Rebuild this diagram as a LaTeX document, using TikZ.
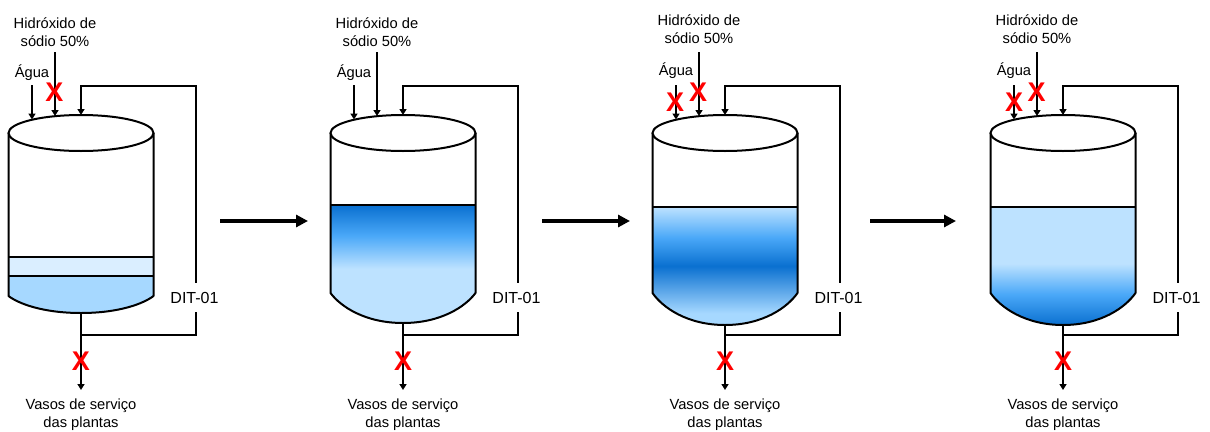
\documentclass[tikz,border=0pt]{standalone}
\usepackage{fontspec}
\setmainfont{Liberation Sans}
\usetikzlibrary{arrows.meta}

\definecolor{lightwater}{HTML}{BDE2FF}
\definecolor{paleblue}{HTML}{A6D8FF}
\definecolor{midwater}{HTML}{4AA8F8}
\definecolor{darkwater}{HTML}{0A70D0}
\definecolor{thinlayer}{HTML}{DAEEFF}

% level profiles of the liquid, bottom to top
\pgfdeclareverticalshading{levelhigh}{100bp}{color(0bp)=(lightwater); color(48bp)=(lightwater); color(62bp)=(midwater); color(75bp)=(darkwater); color(100bp)=(darkwater)}
\pgfdeclareverticalshading{levelmid}{100bp}{color(0bp)=(paleblue); color(30bp)=(paleblue); color(50bp)=(darkwater); color(62bp)=(midwater); color(75bp)=(lightwater); color(100bp)=(lightwater)}
\pgfdeclareverticalshading{levellow}{100bp}{color(0bp)=(darkwater); color(25bp)=(darkwater); color(38bp)=(midwater); color(51bp)=(lightwater); color(100bp)=(lightwater)}

\tikzset{
	pipe/.style={line width=2.05pt},
	flow/.style={pipe, -{Triangle[length=6pt,width=7pt]}},
	stage arrow/.style={line width=3.5pt, -{Triangle[length=12pt,width=12pt]}},
	tag/.style={font=\fontsize{14.7}{18}\selectfont, align=center, inner sep=0pt},
	cross/.style={font=\fontsize{27}{27}\selectfont\bfseries, text=red, inner sep=0pt},
}

\begin{document}
\begin{tikzpicture}[x=1pt,y=-1pt]
	\useasboundingbox (0,0) rectangle (1210,431);
	
	\def\rx{72.5} % half width of a tank
	\def\ry{18}   % height of the lid ellipse
	
	% tanks: number / centre / y shift of the labels / wall end / bottom / level / shading
	\foreach \n/\cx/\ytxt/\ywall/\ybot/\ylev/\fillname in {
		1/81/0/296/313/257/none,
		2/403/0/293/323/205/levelhigh,
		3/725/-2.5/293/325/207/levelmid,
		4/1063/-2.5/293/325/207/levellow}
	{
		\def\dish{(\cx-\rx,\ywall) .. controls (\cx-\rx+10,\ywall+0.45*\ybot-0.45*\ywall) and (\cx-38,\ybot) .. (\cx,\ybot) .. controls (\cx+38,\ybot) and (\cx+\rx-10,\ywall+0.45*\ybot-0.45*\ywall) .. (\cx+\rx,\ywall)}
		
		\coordinate (top\n) at (\cx,115);
		\coordinate (base\n) at (\cx,\ybot);
		\coordinate (tee\n) at (\cx,335);
		\coordinate (corner\n) at (\cx+115,86);
		\coordinate (loop\n) at (\cx+115,335);
		\coordinate (caustic\n) at (\cx-26,116);
		\coordinate (water\n) at (\cx-49,119.5);
		
		% liquid
		\ifnum\n=1
			\fill[paleblue] (\cx-\rx,\ylev) -- \dish -- (\cx+\rx,\ylev) -- cycle;
			\fill[thinlayer] (\cx-\rx,257) rectangle (\cx+\rx,276);
			\draw[pipe] (\cx-\rx,276) -- (\cx+\rx,276);
		\else
			\shade[shading=\fillname] (\cx-\rx,\ylev) -- \dish -- (\cx+\rx,\ylev) -- cycle;
		\fi
		\draw[pipe] (\cx-\rx,\ylev) -- (\cx+\rx,\ylev);
		
		% shell
		\draw[line width=2pt, line join=round] (\cx-\rx,133) -- \dish -- (\cx+\rx,133);
		\draw[line width=2pt, fill=white] (\cx,133) ellipse ({\rx} and {\ry});
		
		% texts
		\node[tag] (naoh\n) at (\cx-26,32+\ytxt) {Hidróxido de\\sódio 50\%};
		\node[tag] (agua\n) at (\cx-49,73+\ytxt) {Água};
		\node[tag] (vasos\n) at (\cx,414.5) {Vasos de serviço\\das plantas};
		\coordinate (naohin\n) at (\cx-26,52);
		\coordinate (aguain\n) at (\cx-49,85);
		\coordinate (saida\n) at (\cx,390);
		
		% piping
		\draw[flow] (aguain\n) -- (water\n);
		\draw[flow] (naohin\n) -- (caustic\n);
		\draw[pipe] (base\n) -- (tee\n);
		\draw[flow] (tee\n) -- (saida\n);
		\draw[flow] (tee\n) -- (loop\n) -- (corner\n) -| (top\n);
		\node[tag, font=\fontsize{16}{18}\selectfont, fill=white, minimum width=66pt, minimum height=29pt] (dit\n) at (\cx+113.5,297.5) {DIT-01};
		\node[cross] (shut\n) at (\cx,361.5) {X};
	}
	
	% closed valves on the feed lines
	\node[cross] (shutnaoh1) at (54.5,92) {X};
	\node[cross] (shutagua3) at (675,102) {X};
	\node[cross] (shutnaoh3) at (698,92) {X};
	\node[cross] (shutagua4) at (1014,102) {X};
	\node[cross] (shutnaoh4) at (1036.5,92) {X};
	
	% sequence arrows
	\foreach \i/\xa/\xb in {1/220/308,2/542/630,3/870/956}
	{
		\coordinate (from\i) at (\xa,221);
		\coordinate (to\i) at (\xb,221);
		\draw[stage arrow] (from\i) -- (to\i);
	}
\end{tikzpicture}
\end{document}
